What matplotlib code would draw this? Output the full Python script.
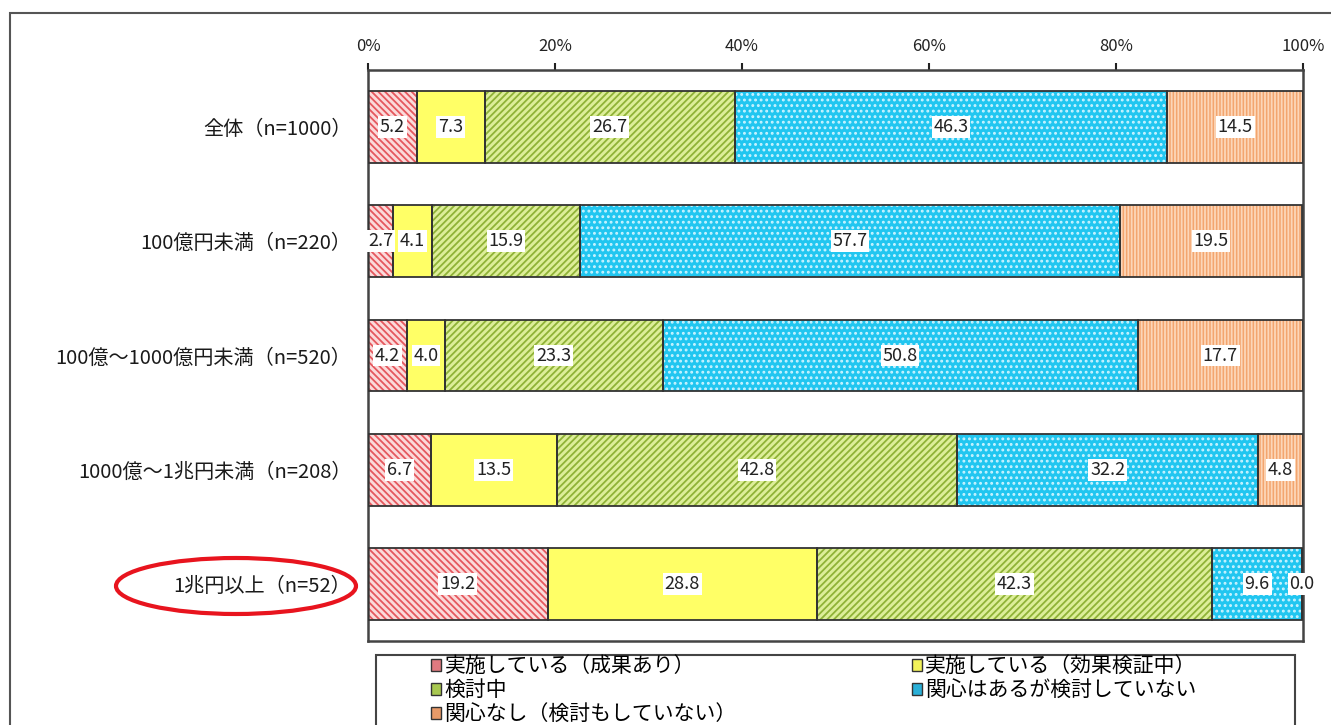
import numpy as np
import matplotlib
matplotlib.use("Agg")
import matplotlib.pyplot as plt
from matplotlib.patches import Rectangle, Ellipse, Patch

plt.rcParams['font.family'] = ['Noto Sans CJK JP', 'DejaVu Sans']
plt.rcParams['hatch.linewidth'] = 1.3

# -----------------------------
# DATA
# -----------------------------
categories = [
    "全体（n=1000）",
    "100億円未満（n=220）",
    "100億～1000億円未満（n=520）",
    "1000億～1兆円未満（n=208）",
    "1兆円以上（n=52）",
]
series_names = [
    "実施している（成果あり）",
    "実施している（効果検証中）",
    "検討中",
    "関心はあるが検討していない",
    "関心なし（検討もしていない）",
]
done_result = [5.2, 2.7, 4.2, 6.7, 19.2]
done_checking = [7.3, 4.1, 4.0, 13.5, 28.8]
considering = [26.7, 15.9, 23.3, 42.8, 42.3]
interested = [46.3, 57.7, 50.8, 32.2, 9.6]
not_interested = [14.5, 19.5, 17.7, 4.8, 0.0]
tick_labels = ["0%", "20%", "40%", "60%", "80%", "100%"]

series = [done_result, done_checking, considering, interested, not_interested]

# face colour, hatch colour, hatch pattern
styles = [
    ("#FBDADA", "#E5585E", "\\\\\\\\\\"),
    ("#FFFF66", "#FFFF66", ""),
    ("#DDEE99", "#8FB236", "/////"),
    ("#21C6F0", "#C9F3FF", "..."),
    ("#F3A56E", "#FCD6B8", "|||||"),
]
legend_colors = ["#E07A80", "#F2F25A", "#A8C850", "#2AB0D8", "#E89A68"]

fig = plt.figure(figsize=(13.31, 7.25), dpi=100)
ax = fig.add_axes([368 / 1331, 1 - 641 / 725, 935 / 1331, 571 / 725])

y = np.arange(len(categories))
bar_h = 0.63
left = np.zeros(len(categories))
for vals, (face, hcol, hatch) in zip(series, styles):
    vals = np.array(vals)
    ax.barh(y, vals, left=left, height=bar_h, color=face, edgecolor=hcol,
            hatch=hatch, linewidth=0, zorder=2)
    ax.barh(y, vals, left=left, height=bar_h, facecolor="none",
            edgecolor="#333333", linewidth=1.3, zorder=3)
    for yi, l, v in zip(y, left, vals):
        ax.text(l + v / 2, yi, f"{v:.1f}", ha="center", va="center",
                fontsize=13, color="#222222", zorder=5,
                bbox=dict(boxstyle="square,pad=0.1", fc="white", ec="none"))
    left = left + vals

ax.set_xlim(0, 100)
ax.set_ylim(len(categories) - 0.5, -0.5)
ax.set_xticks([0, 20, 40, 60, 80, 100])
ax.set_xticklabels(tick_labels)
ax.xaxis.tick_top()
ax.tick_params(axis="x", length=5, width=1.5, pad=6, labelsize=12,
               colors="#222222")
ax.set_yticks(y)
ax.set_yticklabels(categories)
ax.tick_params(axis="y", length=0, pad=12, labelsize=14.5, colors="#1a1a1a")
for s in ax.spines.values():
    s.set_color("#444444")
    s.set_linewidth(1.8)

# outer frame
fig.patches.append(Rectangle((10 / 1331, -0.1), 1.1, 1 - 13 / 725 + 0.1,
                             transform=fig.transFigure, fill=False,
                             edgecolor="#555555", linewidth=1.5))

# highlight ellipse
fig.patches.append(Ellipse((236 / 1331, 1 - 586 / 725), 240 / 1331, 56 / 725,
                           transform=fig.transFigure, fill=False,
                           edgecolor="#E8141E", linewidth=3))

# legend box
fig.patches.append(Rectangle((376 / 1331, -0.1), 919 / 1331,
                             1 - 655 / 725 + 0.1,
                             transform=fig.transFigure, fill=False,
                             edgecolor="#444444", linewidth=1.5))

handles = [Patch(facecolor=c, edgecolor="#333333", linewidth=1)
           for c in legend_colors]
order = [0, 2, 4, 1, 3]
fig.legend([handles[i] for i in order], [series_names[i] for i in order],
           ncol=2, loc="upper left", bbox_to_anchor=(431 / 1331, 1 - 655 / 725),
           frameon=False, fontsize=15, handlelength=0.5, handleheight=0.5,
           handletextpad=0.15, labelspacing=0.1, columnspacing=8.4,
           borderpad=0, borderaxespad=0)

fig.savefig("out.png", dpi=100)
